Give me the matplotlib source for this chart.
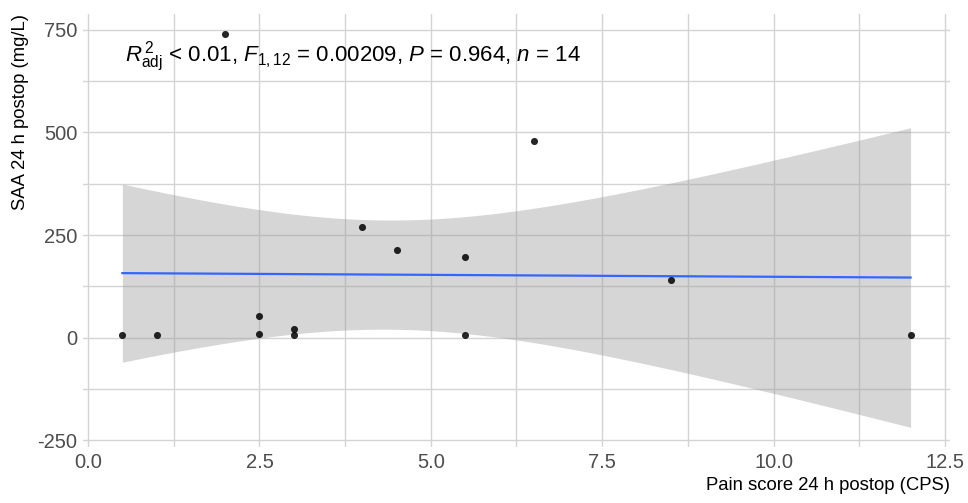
import numpy as np
import matplotlib
matplotlib.use("Agg")
import matplotlib.pyplot as plt
from matplotlib.ticker import MultipleLocator

plt.rcParams['font.family'] = ['Liberation Sans', 'DejaVu Sans']
plt.rcParams['mathtext.fontset'] = 'custom'
plt.rcParams['mathtext.rm'] = 'Liberation Sans'
plt.rcParams['mathtext.it'] = 'Liberation Sans:italic'
plt.rcParams['mathtext.bf'] = 'Liberation Sans:bold'

# Data
pain_score = [0.5, 1.0, 2.0, 2.5, 2.5, 3.0, 3.0, 4.0, 4.5, 5.5, 5.5, 6.5, 8.5, 12.0]
saa_24h = [6, 6, 740, 52, 8, 20, 6, 270, 213, 196, 6, 479, 140, 6]
x_ticks = [0.0, 2.5, 5.0, 7.5, 10.0, 12.5]
y_ticks = [-250, 0, 250, 500, 750]
annotation = r"$R^{\,2}_{\mathrm{adj}}$ < 0.01, $F_{\mathrm{1,12}}$ = 0.00209, $P$ = 0.964, $n$ = 14"
x_title = "Pain score 24 h postop (CPS)"
y_title = "SAA 24 h postop (mg/L)"

x = np.array(pain_score, dtype=float)
y = np.array(saa_24h, dtype=float)

# Linear fit with 95% confidence band
n = len(x)
b1, b0 = np.polyfit(x, y, 1)
resid = y - (b0 + b1 * x)
s = np.sqrt(np.sum(resid ** 2) / (n - 2))
t975 = 2.178813  # t quantile, df = 12
xs = np.linspace(x.min(), x.max(), 200)
yhat = b0 + b1 * xs
se = s * np.sqrt(1.0 / n + (xs - x.mean()) ** 2 / np.sum((x - x.mean()) ** 2))
lo, hi = yhat - t975 * se, yhat + t975 * se

fig = plt.figure(figsize=(9.68, 5.03), dpi=100)
ax = fig.add_axes([0.0857, 0.1113, 0.8957, 0.8601])

ax.fill_between(xs, lo, hi, color='#999999', alpha=0.4, linewidth=0, zorder=2)
ax.plot(xs, yhat, color='#3366FF', linewidth=1.6, zorder=3)
ax.scatter(x, y, s=26, color='black', alpha=0.85, linewidth=0, zorder=4)

xmin, xmax = x.min(), x.max()
xr = xmax - xmin
ax.set_xlim(xmin - 0.05 * xr, xmax + 0.05 * xr)
ymin = min(y.min(), lo.min()); ymax = max(y.max(), hi.max())
yr = ymax - ymin
ax.set_ylim(ymin - 0.05 * yr, ymax + 0.05 * yr)

ax.set_xticks(x_ticks)
ax.set_xticklabels([f"{v:.1f}" for v in x_ticks])
ax.set_yticks(y_ticks)
ax.set_yticklabels([str(v) for v in y_ticks])
ax.xaxis.set_minor_locator(MultipleLocator(1.25))
ax.yaxis.set_minor_locator(MultipleLocator(125))

ax.grid(True, which='both', color='#D4D4D4', linewidth=1.0, zorder=1)
ax.set_axisbelow(True)
for sp in ax.spines.values():
    sp.set_visible(False)
ax.tick_params(which='both', length=0)
ax.tick_params(axis='both', labelsize=14.5, labelcolor='#4D4D4D', pad=4)

ax.set_xlabel(x_title, fontsize=13.3, loc='right', labelpad=4)
ax.set_ylabel(y_title, fontsize=13.3, loc='top', labelpad=6)

ax.text(0.54, 684, annotation, fontsize=16, ha='left', va='center', zorder=5)

fig.savefig("out.png", dpi=100)
